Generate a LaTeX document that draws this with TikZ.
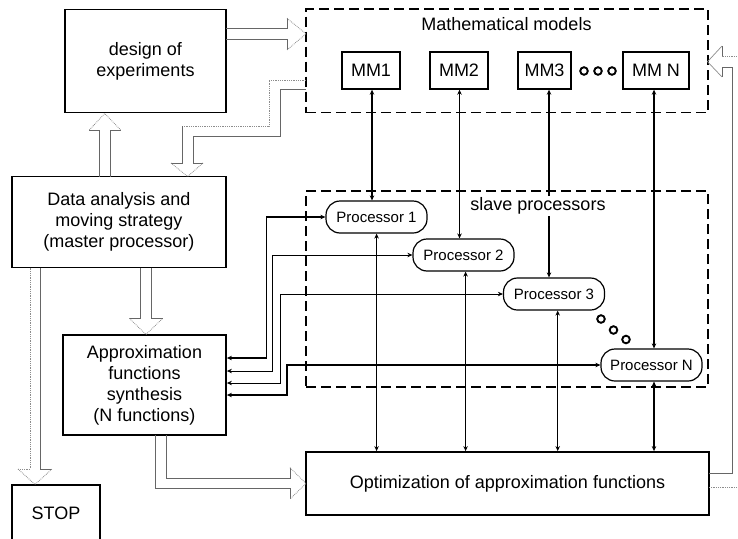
\documentclass[tikz,border=0pt]{standalone}
\usepackage{fontspec}
\setmainfont{Liberation Sans}
\usetikzlibrary{arrows.meta,calc}
\begin{document}
\begin{tikzpicture}[x=1pt,y=-1pt,
  box/.style={draw, line width=1.8pt, align=center, font=\fontsize{18}{21}\selectfont, inner sep=0pt},
  mmbox/.style={draw, line width=1.4pt, font=\fontsize{18}{21}\selectfont, inner sep=0pt, minimum height=37pt},
  proc/.style={draw, line width=1.2pt, rounded corners=14pt, font=\fontsize{15}{18}\selectfont, minimum width=101pt, minimum height=32pt, inner sep=0pt},
  group/.style={draw, dash pattern=on 10pt off 5pt, line width=1.7pt, inner sep=0pt},
  link/.style={line width=0.9pt, {Stealth[length=5pt,width=4.5pt]}-{Stealth[length=5pt,width=4.5pt]}},
  thicklink/.style={link, line width=1.5pt},
  hshaft/.style={draw=black!60, line width=0.9pt},
  hlight/.style={draw=black!45, line width=0.8pt, densely dotted},
  dot/.style={line width=1.9pt},
]
\useasboundingbox (0,0) rectangle (738,538);
\clip (0,0) rectangle (738,538);

% groups
\node[group, minimum width=402pt, minimum height=103.5pt] (mmgroup) at (507,60.75) {};
\node[group, minimum width=402pt, minimum height=196pt] (slgroup) at (507,289) {};
\node[font=\fontsize{18}{21}\selectfont] (mmtitle) at (506.5,24) {Mathematical models};

% main boxes
\node[box, minimum width=161pt, minimum height=103pt] (design) at (145.5,61) {design of\\experiments};
\node[box, minimum width=214pt, minimum height=91pt] (data) at (119,222) {Data analysis and\\moving strategy\\(master processor)};
\node[box, minimum width=163pt, minimum height=100pt] (approx) at (144.5,385) {Approximation\\functions\\synthesis\\(N functions)};
\node[box, minimum width=88pt, minimum height=56pt] (stop) at (56,513) {STOP};
\node[box, minimum width=403pt, minimum height=63pt] (opt) at (507.5,483.5) {Optimization of approximation functions};

% models
\node[mmbox, minimum width=58pt] (MM1) at (371,70.5) {MM1};
\node[mmbox, minimum width=58pt] (MM2) at (459,70.5) {MM2};
\node[mmbox, minimum width=53pt] (MM3) at (544.5,70.5) {MM3};
\node[mmbox, minimum width=66pt] (MMN) at (656,70.5) {MM N};
\draw[dot] (584,71) circle[radius=3.8pt] (598,71) circle[radius=3.8pt] (612,71) circle[radius=3.8pt];

% processors
\node[proc] (P1) at (376.5,217) {Processor 1};
\node[proc] (P2) at (463.5,255) {Processor 2};
\node[proc] (P3) at (554,294) {Processor 3};
\node[proc] (PN) at (651.5,365) {Processor N};
\draw[dot] (601,319) circle[radius=3.8pt] (613.5,330) circle[radius=3.8pt] (626,339.5) circle[radius=3.8pt];

% model <-> processor
\coordinate (c1) at (372,0);
\coordinate (c2) at (459.5,0);
\coordinate (c3) at (549,0);
\coordinate (c4) at (654,0);
\draw[thicklink] (MM1.south -| c1) -- (P1.north -| c1);
\draw[link] (MM2.south -| c2) -- (P2.north -| c2);
\draw[thicklink] (MM3.south -| c3) -- (P3.north -| c3);
\draw[thicklink] (MMN.south -| c4) -- (PN.north -| c4);

% processor <-> optimization
\coordinate (d1) at (376.6,0);
\coordinate (d2) at (465.6,0);
\coordinate (d3) at (557.7,0);
\coordinate (d4) at (654,0);
\draw[link] (P1.south -| d1) -- (opt.north -| d1);
\draw[link] (P2.south -| d2) -- (opt.north -| d2);
\draw[link] (P3.south -| d3) -- (opt.north -| d3);
\draw[thicklink] (PN.south -| d4) -- (opt.north -| d4);

% processor <-> approximation
\coordinate (v1) at (266.5,358);
\coordinate (v2) at (272.7,371);
\coordinate (v3) at (280,383);
\coordinate (v4) at (287,395);
\draw[thicklink] (P1.west) -| (v1) -- (approx.east |- v1);
\draw[link] (P2.west) -| (v2) -- (approx.east |- v2);
\draw[link] (P3.west) -| (v3) -- (approx.east |- v3);
\draw[thicklink] (PN.west) -| (v4) -- (approx.east |- v4);

\node[fill=white, inner sep=1.5pt, font=\fontsize{18}{21}\selectfont] (sltitle) at (538,206) {slave processors};

% hollow arrow: design -> models
\draw[hshaft] (226,28.3) -- (287,28.3) -- (287,18.3);
\draw[hshaft] (226,39.3) -- (287,39.3) -- (287,50);
\draw[hlight] (287,18.3) -- (306,33.8) -- (287,50);

% hollow arrow: data -> design
\draw[hshaft] (99.3,176.5) -- (99.3,130) -- (89.3,130);
\draw[hshaft] (110,176.5) -- (110,130) -- (120.7,130);
\draw[hlight] (89.3,130) -- (104.7,113.5) -- (120.7,130);

% hollow arrow: models -> data
\draw[hlight] (306,80) -- (269,80) -- (269,126) -- (182,126);
\draw[hshaft] (182,126) -- (182,163) -- (171,163);
\draw[hshaft] (306,89) -- (280,89) -- (280,136) -- (193,136) -- (193,163) -- (203,163);
\draw[hlight] (171,163) -- (187.5,176.5) -- (203,163);

% hollow arrow: data -> approximation
\draw[hshaft] (140.7,267.5) -- (140.7,318.3) -- (129.3,318.3);
\draw[hshaft] (151.7,267.5) -- (151.7,318.3) -- (162.7,318.3);
\draw[hlight] (129.3,318.3) -- (146,334.5) -- (162.7,318.3);

% hollow arrow: data -> stop
\draw[hlight] (30,267.5) -- (30,469) -- (18,469);
\draw[hshaft] (40.7,267.5) -- (40.7,469) -- (52,469);
\draw[hlight] (18,469) -- (35,484.5) -- (52,469);

% hollow arrow: approximation -> optimization
\draw[hshaft] (155.7,435) -- (155.7,488.3) -- (290,488.3) -- (290,499);
\draw[hshaft] (166.7,435) -- (166.7,478.3) -- (290,478.3) -- (290,467.7);
\draw[hlight] (290,467.7) -- (306,483.5) -- (290,499);

% hollow arrow: optimization -> models (feedback)
\draw[hshaft] (709,473) -- (732,473) -- (732,67.3) -- (722,67.3) -- (722,77);
\draw[hlight] (709,487) -- (745,487) -- (745,56) -- (722,56);
\draw[hshaft] (722,56) -- (722,46);
\draw[draw=black!45, line width=0.7pt] (722,46) -- (707.5,61.7) -- (722,77);
\end{tikzpicture}
\end{document}
